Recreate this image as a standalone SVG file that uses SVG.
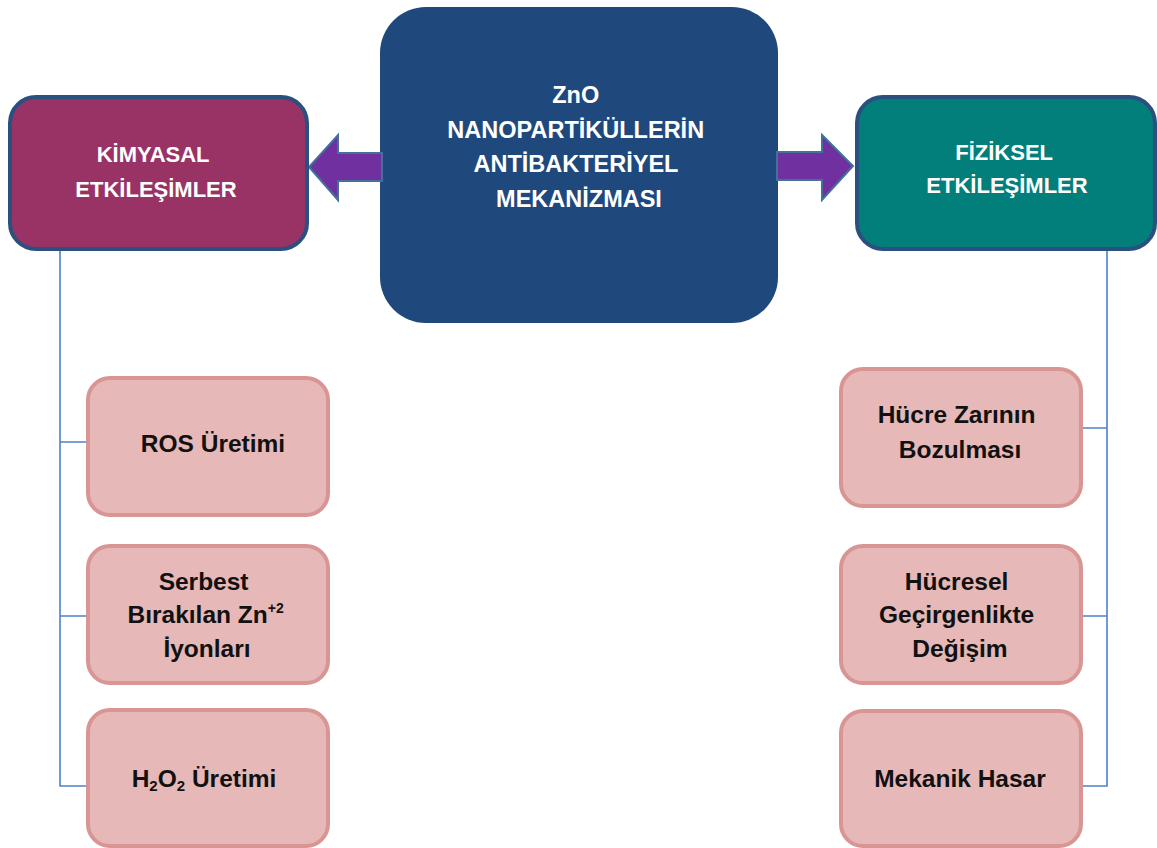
<svg xmlns="http://www.w3.org/2000/svg" width="1157" height="848" viewBox="0 0 1157 848">
  <style>
    .hdr { stroke: #2b4f7e; stroke-width: 4; }
    .sub { fill: #e6b8b7; stroke: #d99594; stroke-width: 4; }
    .arrow { fill: #7030a0; stroke: #41719c; stroke-width: 2; stroke-linejoin: miter; }
    .wire { fill: none; stroke: #4f81c7; stroke-width: 1.6; }
    .wt { font-family: "Liberation Sans", Arial, sans-serif; font-weight: bold; fill: #ffffff; text-anchor: middle; }
    .bt { font-family: "Liberation Sans", Arial, sans-serif; font-weight: bold; fill: #111111; text-anchor: middle; font-size: 24.5px; }
  </style>

  <rect width="1157" height="848" fill="#ffffff"/>

  <!-- tree connectors -->
  <g id="connectors">
    <path class="wire" d="M60 250 V786 H88 M60 442 H88 M60 616 H88"/>
    <path class="wire" d="M1107 250 V786 H1080 M1107 428 H1080 M1107 616 H1080"/>
  </g>

  <!-- central node -->
  <g id="node-center">
    <rect x="380" y="7" width="398" height="316" rx="46" fill="#1f497d"/>
    <text class="wt" font-size="23.5" x="579">
      <tspan x="579" y="103">ZnO</tspan>
      <tspan x="579" y="138">NANOPARTİKÜLLERİN</tspan>
      <tspan x="579" y="172">ANTİBAKTERİYEL</tspan>
      <tspan x="579" y="207">MEKANİZMASI</tspan>
    </text>
  </g>

  <!-- block arrows -->
  <g id="arrows">
    <polygon class="arrow" points="382,153 338,153 338,135 309,167 338,200 338,181 382,181"/>
    <polygon class="arrow" points="777,152 822,152 822,135 853,166 822,200 822,180 777,180"/>
  </g>

  <!-- category nodes -->
  <g id="node-kimyasal">
    <rect class="hdr" x="10" y="97" width="297" height="152" rx="26" fill="#993366"/>
    <text class="wt" font-size="22">
      <tspan x="156" y="162">KİMYASAL</tspan>
      <tspan x="156" y="197">ETKİLEŞİMLER</tspan>
    </text>
  </g>
  <g id="node-fiziksel">
    <rect class="hdr" x="857" y="97" width="298" height="152" rx="26" fill="#027f7b"/>
    <text class="wt" font-size="22">
      <tspan x="1007" y="160">FİZİKSEL</tspan>
      <tspan x="1007" y="193">ETKİLEŞİMLER</tspan>
    </text>
  </g>

  <!-- chemical effects -->
  <g id="node-ros">
    <rect class="sub" x="88" y="378" width="240" height="137" rx="22"/>
    <text class="bt" x="213" y="452">ROS Üretimi</text>
  </g>
  <g id="node-zn">
    <rect class="sub" x="88" y="546" width="240" height="137" rx="22"/>
    <text class="bt">
      <tspan x="207" y="590">Serbest</tspan>
      <tspan x="209" y="623">Bırakılan Zn</tspan><tspan font-size="14" dy="-10">+2</tspan>
      <tspan x="207" y="657">İyonları</tspan>
    </text>
  </g>
  <g id="node-h2o2">
    <rect class="sub" x="88" y="710" width="240" height="136" rx="22"/>
    <text class="bt" x="204" y="787">H<tspan font-size="15" dy="4">2</tspan><tspan dy="-4">O</tspan><tspan font-size="15" dy="4">2</tspan><tspan dy="-4"> Üretimi</tspan></text>
  </g>

  <!-- physical effects -->
  <g id="node-zar">
    <rect class="sub" x="841" y="369" width="240" height="137" rx="22"/>
    <text class="bt">
      <tspan x="960" y="423">Hücre Zarının</tspan>
      <tspan x="960" y="458">Bozulması</tspan>
    </text>
  </g>
  <g id="node-gecirgenlik">
    <rect class="sub" x="841" y="546" width="240" height="137" rx="22"/>
    <text class="bt">
      <tspan x="960" y="590">Hücresel</tspan>
      <tspan x="960" y="623">Geçirgenlikte</tspan>
      <tspan x="960" y="657">Değişim</tspan>
    </text>
  </g>
  <g id="node-mekanik">
    <rect class="sub" x="841" y="711" width="240" height="135" rx="22"/>
    <text class="bt" x="960" y="787">Mekanik Hasar</text>
  </g>
</svg>
